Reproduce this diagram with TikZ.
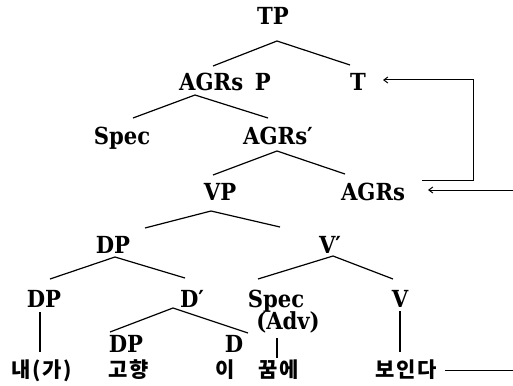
\documentclass[tikz,border=0pt]{standalone}
\usepackage{fontspec}
\setmainfont{DejaVu Serif Condensed}
\newfontfamily\kr{Noto Sans CJK KR}[LetterSpace=8]
\usetikzlibrary{calc,arrows.meta}
\begin{document}
\begin{tikzpicture}[x=1pt,y=-1pt,
  lbl/.style={anchor=base,inner sep=0pt,font=\fontsize{23.5}{27}\selectfont\bfseries},
  kor/.style={anchor=base,inner sep=0pt,font=\fontsize{21}{25}\selectfont\kr\bfseries},
  branch/.style={line width=1.2pt},
  link/.style={line width=1pt},
  tip/.style={-{Straight Barb[length=4pt,width=6pt]}}]
\useasboundingbox (0,0) rectangle (513,385);

% category labels
\node[lbl] (tp)      at (273,25)  {TP};
\node[lbl] (agrsp)   at (225,91)  {AGRs\enspace P};
\node[lbl] (t)       at (358,91)  {T};
\node[lbl] (spec1)   at (122,144) {Spec};
\node[lbl] (agrsbar) at (278,144) {AGRs′};
\node[lbl] (vp)      at (220,200) {VP};
\node[lbl] (agrs)    at (373,200) {AGRs};
\node[lbl] (dp1)     at (113,253) {DP};
\node[lbl] (vbar)    at (330,253) {V′};
\node[lbl] (dp2)     at (44,307)  {DP};
\node[lbl] (dbar)    at (192,307) {D′};
\node[lbl] (spec2)   at (276,307) {Spec};
\node[lbl] (adv)     at (288,329) {(Adv)};
\node[lbl] (v)       at (400,307) {V};
\node[lbl] (dp3)     at (126,352) {DP};
\node[lbl] (d)       at (234,352) {D};

% words
\node[kor] (nae)     at (42,377)  {내(가)};
\node[kor] (gohyang) at (129,377) {고향};
\node[kor] (i)       at (225,377) {이};
\node[kor] (kkum)    at (279,377) {꿈에};
\node[kor] (boin)    at (406,377) {보인다};

% branches
\draw[branch] ($(agrsp.base)+(-12,-25)$) -- ($(tp.base)+(4,16)$) -- ($(t.base)+(-8,-26)$);
\draw[branch] ($(spec1.base)+(11,-26)$) -- ($(agrsp.base)+(-30,4)$) -- ($(agrsbar.base)+(-10,-26)$);
\draw[branch] ($(vp.base)+(-7,-25)$) -- ($(agrsbar.base)+(-1,7)$) -- ($(agrs.base)+(-28,-26)$);
\draw[branch] ($(dp1.base)+(32,-25)$) -- ($(vp.base)+(-9,11)$) -- ($(vbar.base)+(-50,-26)$);
\draw[branch] ($(dp2.base)+(6,-28)$) -- ($(dp1.base)+(2,4)$) -- ($(dbar.base)+(-7,-29)$);
\draw[branch] ($(spec2.base)+(-18,-28)$) -- ($(vbar.base)+(3,3)$) -- ($(v.base)+(-7,-28)$);
\draw[branch] ($(dp3.base)+(-16,-20)$) -- ($(dbar.base)+(-19,1)$) -- ($(d.base)+(14,-19)$);
\draw[branch] ($(dp2.base)+(-4,5)$) -- ($(nae.base)+(-2,-25)$);
\draw[branch] ($(adv.base)+(-11,9)$) -- ($(kkum.base)+(-2,-19)$);
\draw[branch] ($(v.base)+(0,4)$) -- ($(boin.base)+(-6,-25)$);

% head movement
\draw[link,tip] ($(boin.base)+(39,-7)$) -| ($(agrs.base)+(141,-10)$) -- ($(agrs.base)+(55,-10)$);
\draw[link,tip] ($(agrs.base)+(49,-20)$) -- ++(51,0) |- ($(t.base)+(25,-11)$);
\end{tikzpicture}
\end{document}
